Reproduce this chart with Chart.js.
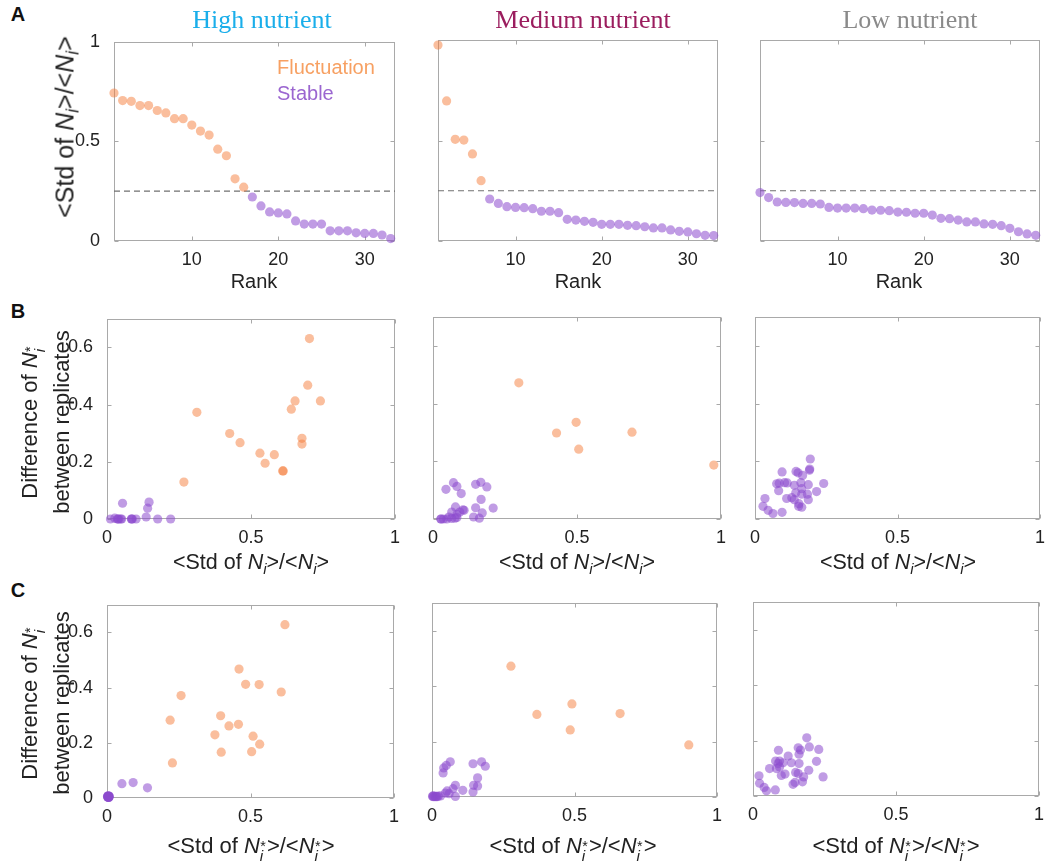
<!DOCTYPE html>
<html><head><meta charset="utf-8">
<script src="https://cdn.jsdelivr.net/npm/chart.js@4.4.1/dist/chart.umd.min.js"></script>
<style>
body{margin:0;background:#fff;width:1045px;height:867px;position:relative;overflow:hidden;font-family:"Liberation Sans",Arial,Helvetica,sans-serif;color:#222}
canvas{position:absolute}
.t{position:absolute;white-space:nowrap;line-height:1}
.title{font-family:"Liberation Serif","Times New Roman",serif;font-size:26px}
.letter{font-weight:bold;font-size:20px;color:#111}
.ax{font-size:20px}
.yl{font-size:22px;text-align:center;line-height:32px}
sub{font-size:0.7em;vertical-align:-0.3em;line-height:0}
.ss{display:inline-block;position:relative;width:0.32em;height:0;line-height:1}
.ss .sp{position:absolute;left:0.02em;top:-1.0em;font-size:0.65em}
.ss .sb{position:absolute;left:0;top:-0.32em;font-size:0.7em;font-style:italic}
</style></head>
<body>
<script>
// ---------------- DATA ----------------
const ranks = [1,2,3,4,5,6,7,8,9,10,11,12,13,14,15,16,17,18,19,20,21,22,23,24,25,26,27,28,29,30,31,32,33];
const rankTicks = [10,20,30];
const ratioTicks = [0,0.5,1];
const stdTicksA = [0,0.5,1];
const diffTicks = [0,0.2,0.4,0.6];
const threshold = 0.25;

// Panel A: <Std of Ni>/<Ni> sorted by rank
const highStd = [0.743,0.705,0.701,0.680,0.680,0.655,0.643,0.614,0.614,0.582,0.552,0.532,0.461,0.428,0.312,0.270,
                 0.221,0.176,0.146,0.141,0.136,0.101,0.085,0.085,0.085,0.051,0.051,0.051,0.041,0.038,0.038,0.030,0.012];
const highFluctCount = 16;
const medStd = [0.975,0.697,0.506,0.502,0.433,0.300,
                0.209,0.187,0.171,0.167,0.166,0.161,0.148,0.148,0.141,0.108,0.104,0.098,0.093,0.083,0.083,0.083,0.078,0.076,0.071,0.065,0.065,0.055,0.048,0.045,0.036,0.028,0.027];
const medFluctCount = 6;
const lowStd = [0.241,0.216,0.194,0.192,0.191,0.187,0.187,0.184,0.167,0.164,0.164,0.164,0.161,0.154,0.153,0.151,0.144,
                0.143,0.138,0.138,0.129,0.113,0.111,0.104,0.095,0.095,0.085,0.083,0.076,0.063,0.046,0.035,0.028];
const lowFluctCount = 0;

// Panel B: [<Std of Ni>/<Ni>, difference of Ni* between replicates]
const bHighFluct = [[0.741,0.413],[0.703,0.631],[0.697,0.468],[0.677,0.282],[0.677,0.262],[0.653,0.413],[0.640,0.384],[0.612,0.168],
                    [0.610,0.168],[0.581,0.225],[0.549,0.195],[0.531,0.230],[0.462,0.267],[0.426,0.299],[0.312,0.373],[0.267,0.129]];
const bHighStable = [[0.221,0.000],[0.176,0.000],[0.146,0.059],[0.141,0.038],[0.136,0.007],[0.101,0.000],[0.085,0.000],[0.085,0.000],
                     [0.088,0.000],[0.054,0.055],[0.051,0.000],[0.048,0.000],[0.041,0.000],[0.038,0.000],[0.036,0.000],[0.027,0.003],[0.012,0.000]];
const bMedFluct = [[0.975,0.187],[0.691,0.301],[0.506,0.242],[0.497,0.335],[0.429,0.298],[0.298,0.472]];
const bMedStable = [[0.209,0.038],[0.187,0.111],[0.171,0.021],[0.167,0.068],[0.166,0.127],[0.161,0.003],[0.148,0.120],[0.148,0.039],
                    [0.141,0.007],[0.108,0.030],[0.104,0.032],[0.098,0.088],[0.093,0.024],[0.083,0.113],[0.083,0.016],[0.083,0.005],
                    [0.078,0.042],[0.076,0.003],[0.071,0.126],[0.065,0.024],[0.065,0.002],[0.055,0.007],[0.048,0.000],[0.045,0.103],
                    [0.036,0.000],[0.028,0.000],[0.027,0.000]];
const bLowStable = [[0.241,0.123],[0.216,0.095],[0.194,0.208],[0.192,0.173],[0.191,0.169],[0.187,0.119],[0.187,0.067],[0.184,0.086],
                    [0.167,0.151],[0.164,0.105],[0.164,0.041],[0.164,0.086],[0.161,0.126],[0.154,0.053],[0.153,0.044],[0.151,0.160],
                    [0.144,0.165],[0.143,0.091],[0.138,0.067],[0.138,0.117],[0.129,0.074],[0.113,0.125],[0.111,0.071],[0.104,0.126],
                    [0.095,0.163],[0.095,0.023],[0.085,0.124],[0.083,0.098],[0.076,0.122],[0.063,0.019],[0.046,0.030],[0.035,0.071],[0.028,0.044]];

// Panel C: [<Std of Ni*>/<Ni*>, difference of Ni* between replicates]
const cHighFluct = [[0.620,0.628],[0.460,0.467],[0.483,0.412],[0.530,0.411],[0.607,0.384],[0.258,0.371],[0.220,0.282],[0.396,0.298],
                    [0.425,0.261],[0.458,0.267],[0.376,0.229],[0.509,0.224],[0.532,0.195],[0.398,0.166],[0.504,0.168],[0.228,0.127]];
const cHighStable = [[0.052,0.052],[0.091,0.056],[0.141,0.037],[0.004,0.004],[0.006,0.006],[0.003,0.007],[0.007,0.003],[0.005,0.005],
                     [0.002,0.004],[0.008,0.006],[0.004,0.008],[0.006,0.002],[0.003,0.003],[0.007,0.007],[0.005,0.002],[0.002,0.006],[0.006,0.004]];
const cMedFluct = [[0.277,0.472],[0.368,0.298],[0.491,0.336],[0.485,0.242],[0.660,0.301],[0.901,0.188]];
const cMedStable = [[0.041,0.105],[0.050,0.114],[0.064,0.127],[0.039,0.087],[0.144,0.120],[0.174,0.127],[0.187,0.111],[0.160,0.069],
                    [0.146,0.042],[0.160,0.040],[0.144,0.018],[0.108,0.024],[0.082,0.042],[0.074,0.030],[0.053,0.022],[0.047,0.014],
                    [0.082,0.002],[0.060,0.012],[0.002,0.002],[0.005,0.001],[0.008,0.003],[0.012,0.001],[0.015,0.002],[0.003,0.004],
                    [0.018,0.001],[0.022,0.003],[0.030,0.004]];
const cLowStable = [[0.188,0.210],[0.158,0.174],[0.197,0.177],[0.230,0.168],[0.166,0.166],[0.089,0.165],[0.123,0.144],[0.079,0.126],
                    [0.093,0.126],[0.088,0.117],[0.105,0.120],[0.134,0.120],[0.161,0.117],[0.222,0.125],[0.058,0.099],[0.082,0.099],
                    [0.093,0.105],[0.195,0.093],[0.099,0.074],[0.112,0.079],[0.149,0.085],[0.158,0.081],[0.177,0.069],[0.245,0.069],
                    [0.140,0.042],[0.147,0.049],[0.173,0.051],[0.021,0.073],[0.023,0.046],[0.039,0.031],[0.047,0.019],[0.078,0.022],[0.161,0.151]];

// ---------------- STYLE ----------------
const FONT = '"Liberation Sans", Arial, Helvetica, sans-serif';
const ORANGE = 'rgba(245,125,60,0.5)';
const PURPLE = 'rgba(140,75,205,0.55)';
const BOX = '#a9a9a9';

const boxPlugin = {
  id: 'box',
  beforeDatasetsDraw(chart) {
    const {ctx, chartArea: a, scales: {x, y}} = chart;
    ctx.save();
    ctx.strokeStyle = BOX; ctx.lineWidth = 1;
    const L = Math.round(a.left) + 0.5, R = Math.round(a.right) - 0.5;
    const T = Math.round(a.top) + 0.5, B = Math.round(a.bottom) - 0.5;
    ctx.strokeRect(L, T, R - L, B - T);
    ctx.beginPath();
    x.ticks.forEach(t => {
      const p = Math.round(x.getPixelForValue(t.value)) + 0.5;
      ctx.moveTo(p, B); ctx.lineTo(p, B - 4);
      ctx.moveTo(p, T); ctx.lineTo(p, T + 4);
    });
    y.ticks.forEach(t => {
      const p = Math.round(y.getPixelForValue(t.value)) + 0.5;
      ctx.moveTo(L, p); ctx.lineTo(L + 4, p);
      ctx.moveTo(R, p); ctx.lineTo(R - 4, p);
    });
    ctx.stroke();
    ctx.restore();
  }
};

function pts(arr) { return arr.map(p => ({x: p[0], y: p[1]})); }
function rankPts(vals, from, to) {
  const out = [];
  for (let i = from; i < to; i++) out.push({x: ranks[i], y: vals[i]});
  return out;
}
function ds(data, color) {
  return {data, backgroundColor: color, borderWidth: 0, pointRadius: 4.6, pointHoverRadius: 4.6, clip: false, order: 1};
}

function panel(rect, o) {
  const L = 60, T = 15, R = 15, B = 40;
  const cv = document.createElement('canvas');
  const W = rect.r - rect.l + L + R, H = rect.b - rect.t + T + B;
  cv.width = W; cv.height = H;
  cv.style.left = (rect.l - L) + 'px'; cv.style.top = (rect.t - T) + 'px';
  cv.style.width = W + 'px'; cv.style.height = H + 'px';
  document.body.appendChild(cv);
  const tickFont = {size: 18, family: FONT};
  new Chart(cv, {
    type: 'scatter',
    data: {datasets: o.datasets},
    options: {
      responsive: false, animation: false, devicePixelRatio: 1,
      layout: {padding: {top: T, right: R, left: 0, bottom: 0}},
      plugins: {legend: {display: false}, tooltip: {enabled: false}},
      scales: {
        x: {type: 'linear', min: o.xmin, max: o.xmax,
            afterBuildTicks: s => { s.ticks = o.xticks.map(v => ({value: v})); },
            afterFit: s => { s.height = B; },
            grid: {display: false}, border: {display: false},
            ticks: {font: tickFont, color: '#222', padding: 0, maxRotation: 0, autoSkip: false, callback: v => String(v)}},
        y: {type: 'linear', min: o.ymin, max: o.ymax,
            afterBuildTicks: s => { s.ticks = o.yticks.map(v => ({value: v})); },
            afterFit: s => { s.width = L; },
            grid: {display: false}, border: {display: false},
            ticks: {display: o.ylabels, font: tickFont, color: '#222', padding: 6, autoSkip: false, callback: v => String(v)}}
      }
    },
    plugins: [boxPlugin]
  });
}

function dashLine() {
  return {type: 'line', data: [{x: 1, y: threshold}, {x: 33.5, y: threshold}], borderColor: '#707070', borderWidth: 1.2,
          borderDash: [6, 4], pointRadius: 0, fill: false, order: 2, clip: false};
}

function rankPanel(rect, vals, nF, ylabels) {
  const sets = [dashLine()];
  if (nF > 0) sets.push(ds(rankPts(vals, 0, nF), ORANGE));
  sets.push(ds(rankPts(vals, nF, vals.length), PURPLE));
  panel(rect, {datasets: sets, xmin: 1, xmax: 33.5, xticks: rankTicks, ymin: 0, ymax: 1, yticks: stdTicksA, ylabels});
}
function scatPanel(rect, fl, st, ylabels) {
  const sets = [];
  if (fl) sets.push(ds(pts(fl), ORANGE));
  sets.push(ds(pts(st), PURPLE));
  panel(rect, {datasets: sets, xmin: 0, xmax: 1, xticks: ratioTicks, ymin: 0, ymax: 0.7, yticks: diffTicks, ylabels});
}

rankPanel({l:114, t:40, r:395, b:241}, highStd, highFluctCount, true);
rankPanel({l:438, t:40, r:718, b:241}, medStd, medFluctCount, false);
rankPanel({l:760, t:40, r:1040, b:241}, lowStd, lowFluctCount, false);

scatPanel({l:107, t:317, r:395, b:519}, bHighFluct, bHighStable, true);
scatPanel({l:433, t:317, r:721, b:519}, bMedFluct, bMedStable, false);
scatPanel({l:755, t:317, r:1040, b:519}, null, bLowStable, false);

scatPanel({l:107, t:603, r:394, b:798}, cHighFluct, cHighStable, true);
scatPanel({l:432, t:603, r:717, b:797}, cMedFluct, cMedStable, false);
scatPanel({l:753, t:602, r:1039, b:796}, null, cLowStable, false);

// ---------------- TEXT ----------------
function txt(html, cx, cy, cls, extra) {
  const d = document.createElement('div');
  d.className = 't ' + (cls || '');
  d.innerHTML = html;
  d.style.left = cx + 'px'; d.style.top = cy + 'px';
  d.style.transform = 'translate(-50%,-50%)' + (extra || '');
  document.body.appendChild(d);
  return d;
}
const Ni = '<i>N</i><sub><i>i</i></sub>';
const NiS = '<i>N</i><span class="ss"><span class="sp">*</span><span class="sb">i</span></span>';
const ratioLbl = '&lt;Std of ' + Ni + '&gt;/&lt;' + Ni + '&gt;';
const ratioLblS = '&lt;Std of ' + NiS + '&gt;/&lt;' + NiS + '&gt;';
const diffLbl = 'Difference of ' + NiS + '<br>between replicates';

txt('A', 18, 14, 'letter');
txt('B', 18, 311, 'letter');
txt('C', 18, 590, 'letter');

txt('High nutrient', 262, 20, 'title').style.color = '#1aaeea';
txt('Medium nutrient', 583, 20, 'title').style.color = '#9b1d5e';
txt('Low nutrient', 910, 20, 'title').style.color = '#8a8a8a';

const lf = txt('Fluctuation', 0, 67, 'ax'); lf.style.transform = 'translate(0,-50%)'; lf.style.left = '277px'; lf.style.color = '#f7a062';
const ls = txt('Stable', 0, 93, 'ax'); ls.style.transform = 'translate(0,-50%)'; ls.style.left = '277px'; ls.style.color = '#9b66d0';

txt(ratioLbl, 65, 127, 'ax', ' rotate(-90deg)').style.fontSize = '25px';
txt(diffLbl, 46, 422, 'yl', ' rotate(-90deg)');
txt(diffLbl, 46, 703, 'yl', ' rotate(-90deg)');

txt('Rank', 254, 281, 'ax');
txt('Rank', 578, 281, 'ax');
txt('Rank', 899, 281, 'ax');

txt(ratioLbl, 251, 563, 'ax').style.fontSize = '21.5px';
txt(ratioLbl, 577, 563, 'ax').style.fontSize = '21.5px';
txt(ratioLbl, 898, 563, 'ax').style.fontSize = '21.5px';

txt(ratioLblS, 251, 846, 'ax').style.fontSize = '22px';
txt(ratioLblS, 573, 846, 'ax').style.fontSize = '22px';
txt(ratioLblS, 896, 846, 'ax').style.fontSize = '22px';
</script>
</body></html>
